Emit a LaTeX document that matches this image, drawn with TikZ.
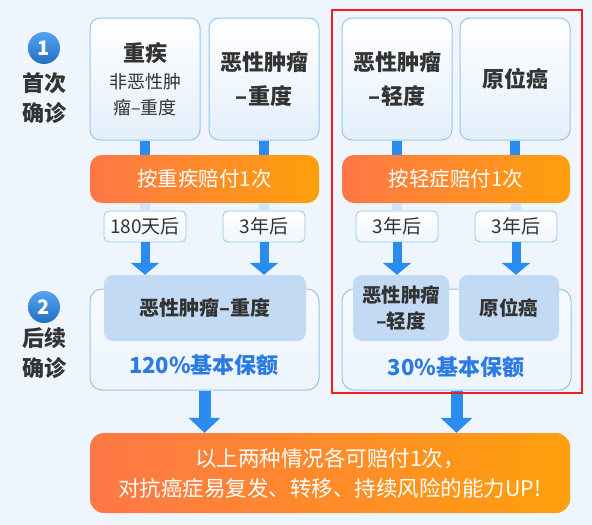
\documentclass[tikz,border=0pt]{standalone}
\usepackage{fontspec}
\setmainfont{Noto Sans CJK SC}
\usepackage{tikz}
\usepackage{xcolor}
\usetikzlibrary{arrows.meta}

\definecolor{bgblue}{HTML}{EEF5FD}
\definecolor{lineblue}{HTML}{96C6F0}
\definecolor{cardbot}{HTML}{E4EFFB}
\definecolor{innerblue}{HTML}{C3DAF4}
\definecolor{arrowblue}{HTML}{2B8CF0}
\definecolor{stemlight}{HTML}{CFE3FA}
\definecolor{textgray}{HTML}{333333}
\definecolor{pctblue}{HTML}{2B7BE2}
\definecolor{orangeL}{HTML}{FF7747}
\definecolor{orangeR}{HTML}{FFA00C}
\definecolor{markred}{HTML}{F01E1E}

\begin{document}
\begin{tikzpicture}[x=1pt, y=-1pt,
  card/.style={draw=lineblue, line width=1pt, rounded corners=10pt, top color=white, bottom color=cardbot,
    minimum width=110pt, minimum height=122pt, align=center, text=textgray, inner sep=0pt},
  paybar/.style={rounded corners=12pt, left color=orangeL, right color=orangeR, text=white,
    minimum height=48pt, inner sep=0pt, font=\fontsize{20.5}{24}\selectfont},
  tagbox/.style={draw=lineblue, line width=0.8pt, rounded corners=5pt, top color=white, bottom color=cardbot!60,
    minimum width=82pt, minimum height=31pt, inner sep=0pt, text=textgray, font=\fontsize{19}{20}\selectfont},
  sumbox/.style={draw=lineblue, line width=1pt, rounded corners=12pt, top color=white!60!bgblue, bottom color=cardbot!70,
    minimum width=229pt, minimum height=101pt},
  inbox/.style={fill=innerblue, rounded corners=9pt, minimum height=66pt, inner sep=0pt, align=center,
    text=textgray, font=\fontsize{19.5}{26}\selectfont\bfseries},
  badge/.style={circle, top color=arrowblue!80!white, bottom color=arrowblue!80!black, minimum size=32pt, inner sep=0pt,
    text=white, font=\fontsize{20}{20}\selectfont\bfseries},
  steplabel/.style={align=center, text=textgray, font=\fontsize{22}{30}\selectfont\bfseries},
  pct/.style={text=pctblue, font=\fontsize{22}{24}\selectfont\bfseries},
  stem/.style={draw=arrowblue, line width=10pt},
  stemfade/.style={draw=stemlight, line width=10pt},
  downarrow/.style={draw=arrowblue, line width=9pt, -{Triangle[width=28pt, length=12pt]}},
  bigarrow/.style={draw=arrowblue, line width=12pt, -{Triangle[width=31pt, length=15pt]}}]

  \fill[bgblue] (0,0) rectangle (592,525);
  \useasboundingbox (0,0) rectangle (592,525);

  % first diagnosis
  \node[badge] (b1) at (44,48) {1};
  \node[steplabel] (l1) at (44,98) {首次\\确诊};
  \node[card] (c1) at (145,79) {\fontsize{22}{24}\selectfont\bfseries 重疾\\[9pt]\fontsize{18}{27}\selectfont 非恶性肿\\[8pt]\fontsize{18}{27}\selectfont 瘤–重度};
  \node[card, font=\fontsize{22}{34}\selectfont\bfseries] (c2) at (264,79) {恶性肿瘤\\–重度};
  \node[card, font=\fontsize{22}{34}\selectfont\bfseries] (c3) at (397,79) {恶性肿瘤\\–轻度};
  \node[card, font=\fontsize{22}{34}\selectfont\bfseries] (c4) at (515,79) {原位癌};

  \node[paybar, minimum width=229pt] (p1) at (204.5,179) {按重疾赔付1次};
  \node[paybar, minimum width=228pt] (p2) at (456,179) {按轻症赔付1次};

  \node[tagbox] (t1) at (145,226.5) {180天后};
  \node[tagbox] (t2) at (264,226.5) {3年后};
  \node[tagbox] (t3) at (397,226.5) {3年后};
  \node[tagbox] (t4) at (516,226.5) {3年后};

  % later diagnosis
  \node[badge] (b2) at (44,307) {2};
  \node[steplabel] (l2) at (44,353) {后续\\确诊};
  \node[sumbox] (s1) at (204.5,339.5) {};
  \node[sumbox] (s2) at (456.5,339.5) {};
  \node[inbox, minimum width=202pt, font=\fontsize{20}{26}\selectfont\bfseries] (i1) at (205,308) {恶性肿瘤–重度};
  \node[inbox, minimum width=96pt] (i2) at (401,308) {恶性肿瘤\\–轻度};
  \node[inbox, minimum width=100pt] (i3) at (509,308) {原位癌};
  \node[pct] (q1) at (204,365) {120\%基本保额};
  \node[pct] (q2) at (456,367) {30\%基本保额};

  \node[paybar, rounded corners=14pt, minimum width=480pt, minimum height=80pt, align=center,
    font=\fontsize{21.5}{30}\selectfont] (f) at (330,473) {以上两种情况各可赔付1次，\\对抗癌症易复发、转移、持续风险的能力UP!};

  % connectors
  \foreach \c/\p in {c1/p1, c2/p1, c3/p2, c4/p2}
    \draw[stem] (\c.south) -- (\c.south |- \p.north);
  \foreach \t/\p in {t1/p1, t2/p1, t3/p2, t4/p2}
    \draw[stemfade] (\t.north |- \p.south) -- (\t.north);
  \foreach \t/\i in {t1/i1, t2/i1, t3/i2, t4/i3}
    \draw[downarrow] (\t.south) -- (\t.south |- \i.north);
  \draw[bigarrow] (s1.south) -- (s1.south |- f.north);
  \draw[bigarrow] (s2.south) -- (s2.south |- f.north);

  \draw[markred, line width=2.5pt] (332,10) rectangle (582,393);
\end{tikzpicture}
\end{document}
